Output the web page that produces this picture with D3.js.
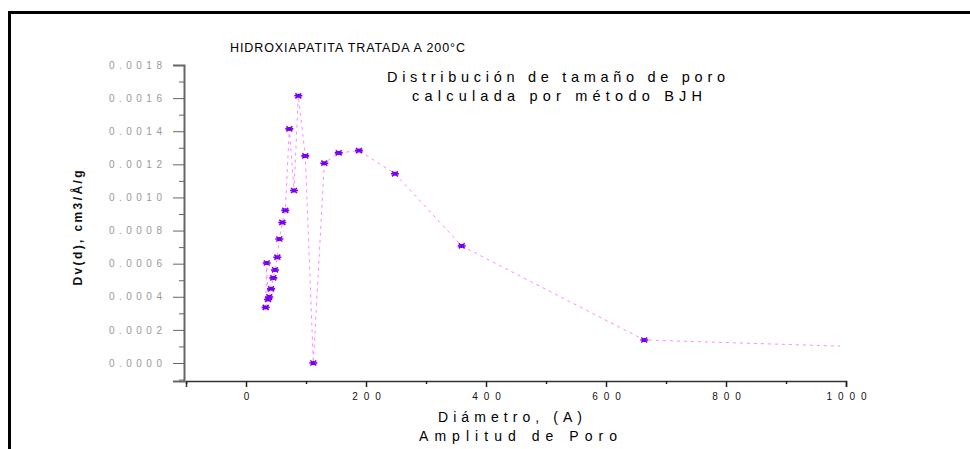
<!DOCTYPE html>
<html>
<head>
<meta charset="utf-8">
<script src="https://cdn.jsdelivr.net/npm/d3@7"></script>
<style>
  body { margin: 0; background: #fff; }
  text { font-family: "Liberation Sans", Arial, sans-serif; }
</style>
</head>
<body>
<script>
// data (BJH pore size distribution)
var diameters = [32.8, 34.5, 36.7, 38.8, 41.7, 45.5, 48.3, 52.2, 55.5, 60.5, 65.5,
  72.2, 80, 87.2, 98.8, 112.2, 130.5, 154.5, 188.3, 248.3, 359.5, 663.8, 990];
var dvValues = [0.000336, 0.000604, 0.000384, 0.000399, 0.000448, 0.000514, 0.000562,
  0.000639, 0.000749, 0.000849, 0.000922, 0.001414, 0.001042, 0.001614, 0.001251,
  0.0, 0.001207, 0.001269, 0.001283, 0.001143, 0.000707, 0.000139, 0.000102];
var xTicks = [0, 200, 400, 600, 800, 1000];
var xMinor = [-100, 100, 300, 500, 700, 900];
var yTicks = [0, 0.0002, 0.0004, 0.0006, 0.0008, 0.0010, 0.0012, 0.0014, 0.0016, 0.0018];
var yMinor = [-0.0001, 0.0001, 0.0003, 0.0005, 0.0007, 0.0009, 0.0011, 0.0013, 0.0015, 0.0017];

var points = diameters.map(function(d, i) { return { x: d, y: dvValues[i] }; });

var svgWidth = 970, svgHeight = 449;

var svg = d3.select("body").append("svg")
  .attr("width", svgWidth)
  .attr("height", svgHeight);

// frame (left and top edges only are visible)
svg.append("path")
  .attr("d", "M9.5,449 V12.5 H970")
  .attr("fill", "none")
  .attr("stroke", "#000")
  .attr("stroke-width", 3);

// scales
var xScale = d3.scaleLinear().domain([-100, 1000]).range([186, 846]);
var yScale = d3.scaleLinear().domain([-0.0001087, 0.0018]).range([381, 65]);

// x axis
var xAxis = svg.append("g")
  .attr("transform", "translate(0,381)")
  .call(d3.axisBottom(xScale).tickValues(xTicks).tickSize(6).tickFormat(d3.format("d")));
svg.append("g")
  .attr("transform", "translate(0,381)")
  .call(d3.axisBottom(xScale).tickValues(xMinor).tickSize(3).tickFormat(""))
  .call(g => g.select(".domain").remove());

xAxis.select(".domain").attr("stroke", "#333").attr("stroke-width", 1.5);
svg.selectAll("g.tick line").attr("stroke", "#222").attr("stroke-width", 1.5);
xAxis.selectAll("text")
  .attr("y", 12)
  .attr("fill", "#111")
  .style("font-size", "10px")
  .style("letter-spacing", "6px")
  .attr("dx", 3);

// y axis
var yAxis = svg.append("g")
  .attr("transform", "translate(184,0)")
  .call(d3.axisLeft(yScale).tickValues(yTicks).tickSize(11).tickFormat(d3.format(".4f")));
var yAxisMinor = svg.append("g")
  .attr("transform", "translate(184,0)")
  .call(d3.axisLeft(yScale).tickValues(yMinor).tickSize(5).tickFormat(""));
yAxisMinor.select(".domain").remove();
yAxis.select(".domain").attr("stroke", "#666").attr("stroke-width", 2);
yAxis.selectAll(".tick line").attr("stroke", "#666").attr("stroke-width", 1);
yAxisMinor.selectAll(".tick line").attr("stroke", "#666").attr("stroke-width", 1);
yAxis.selectAll("text")
  .attr("x", -22)
  .attr("fill", "#999")
  .style("font-size", "10px")
  .style("letter-spacing", "4.5px")
  .attr("dx", 4.5);

// dotted line through the points
var line = d3.line().x(d => xScale(d.x)).y(d => yScale(d.y));
svg.append("path")
  .datum(points)
  .attr("d", line)
  .attr("fill", "none")
  .attr("stroke", "#ff88ff")
  .attr("stroke-width", 1)
  .attr("stroke-dasharray", "3,4");

// asterisk markers (last point has none)
svg.append("g")
  .selectAll("path")
  .data(points.slice(0, -1))
  .enter()
  .append("path")
  .attr("transform", d => `translate(${xScale(d.x)},${yScale(d.y)})`)
  .attr("d", "M-4,0H4M-3,-2.5L3,2.5M-3,2.5L3,-2.5M0,-2V2")
  .attr("fill", "none")
  .attr("stroke", "#7a00f0")
  .attr("stroke-width", 1.6);

// titles
svg.append("text")
  .attr("x", 230)
  .attr("y", 52)
  .attr("textLength", 235)
  .attr("lengthAdjust", "spacing")
  .style("font-size", "12.5px")
  .attr("fill", "#000")
  .text("HIDROXIAPATITA TRATADA A 200°C");

svg.append("text")
  .attr("x", 556)
  .attr("y", 82)
  .attr("text-anchor", "middle")
  .attr("textLength", 338)
  .attr("lengthAdjust", "spacing")
  .style("font-size", "14.5px")
  .text("Distribución de tamaño de poro");

svg.append("text")
  .attr("x", 557)
  .attr("y", 101)
  .attr("text-anchor", "middle")
  .attr("textLength", 290)
  .attr("lengthAdjust", "spacing")
  .style("font-size", "14.5px")
  .text("calculada por método BJH");

// axis titles
svg.append("text")
  .attr("x", 510)
  .attr("y", 422)
  .attr("text-anchor", "middle")
  .attr("textLength", 144)
  .attr("lengthAdjust", "spacing")
  .style("font-size", "14px")
  .text("Diámetro, (A)");

svg.append("text")
  .attr("x", 518)
  .attr("y", 441)
  .attr("text-anchor", "middle")
  .attr("textLength", 198)
  .attr("lengthAdjust", "spacing")
  .style("font-size", "14px")
  .text("Amplitud de Poro");

svg.append("text")
  .attr("transform", "translate(82,228) rotate(-90)")
  .attr("text-anchor", "middle")
  .attr("textLength", 115)
  .attr("lengthAdjust", "spacing")
  .style("font-size", "12px")
  .style("font-weight", "bold")
  .attr("fill", "#111")
  .text("Dv(d), cm3/Å/g");
</script>
</body>
</html>
